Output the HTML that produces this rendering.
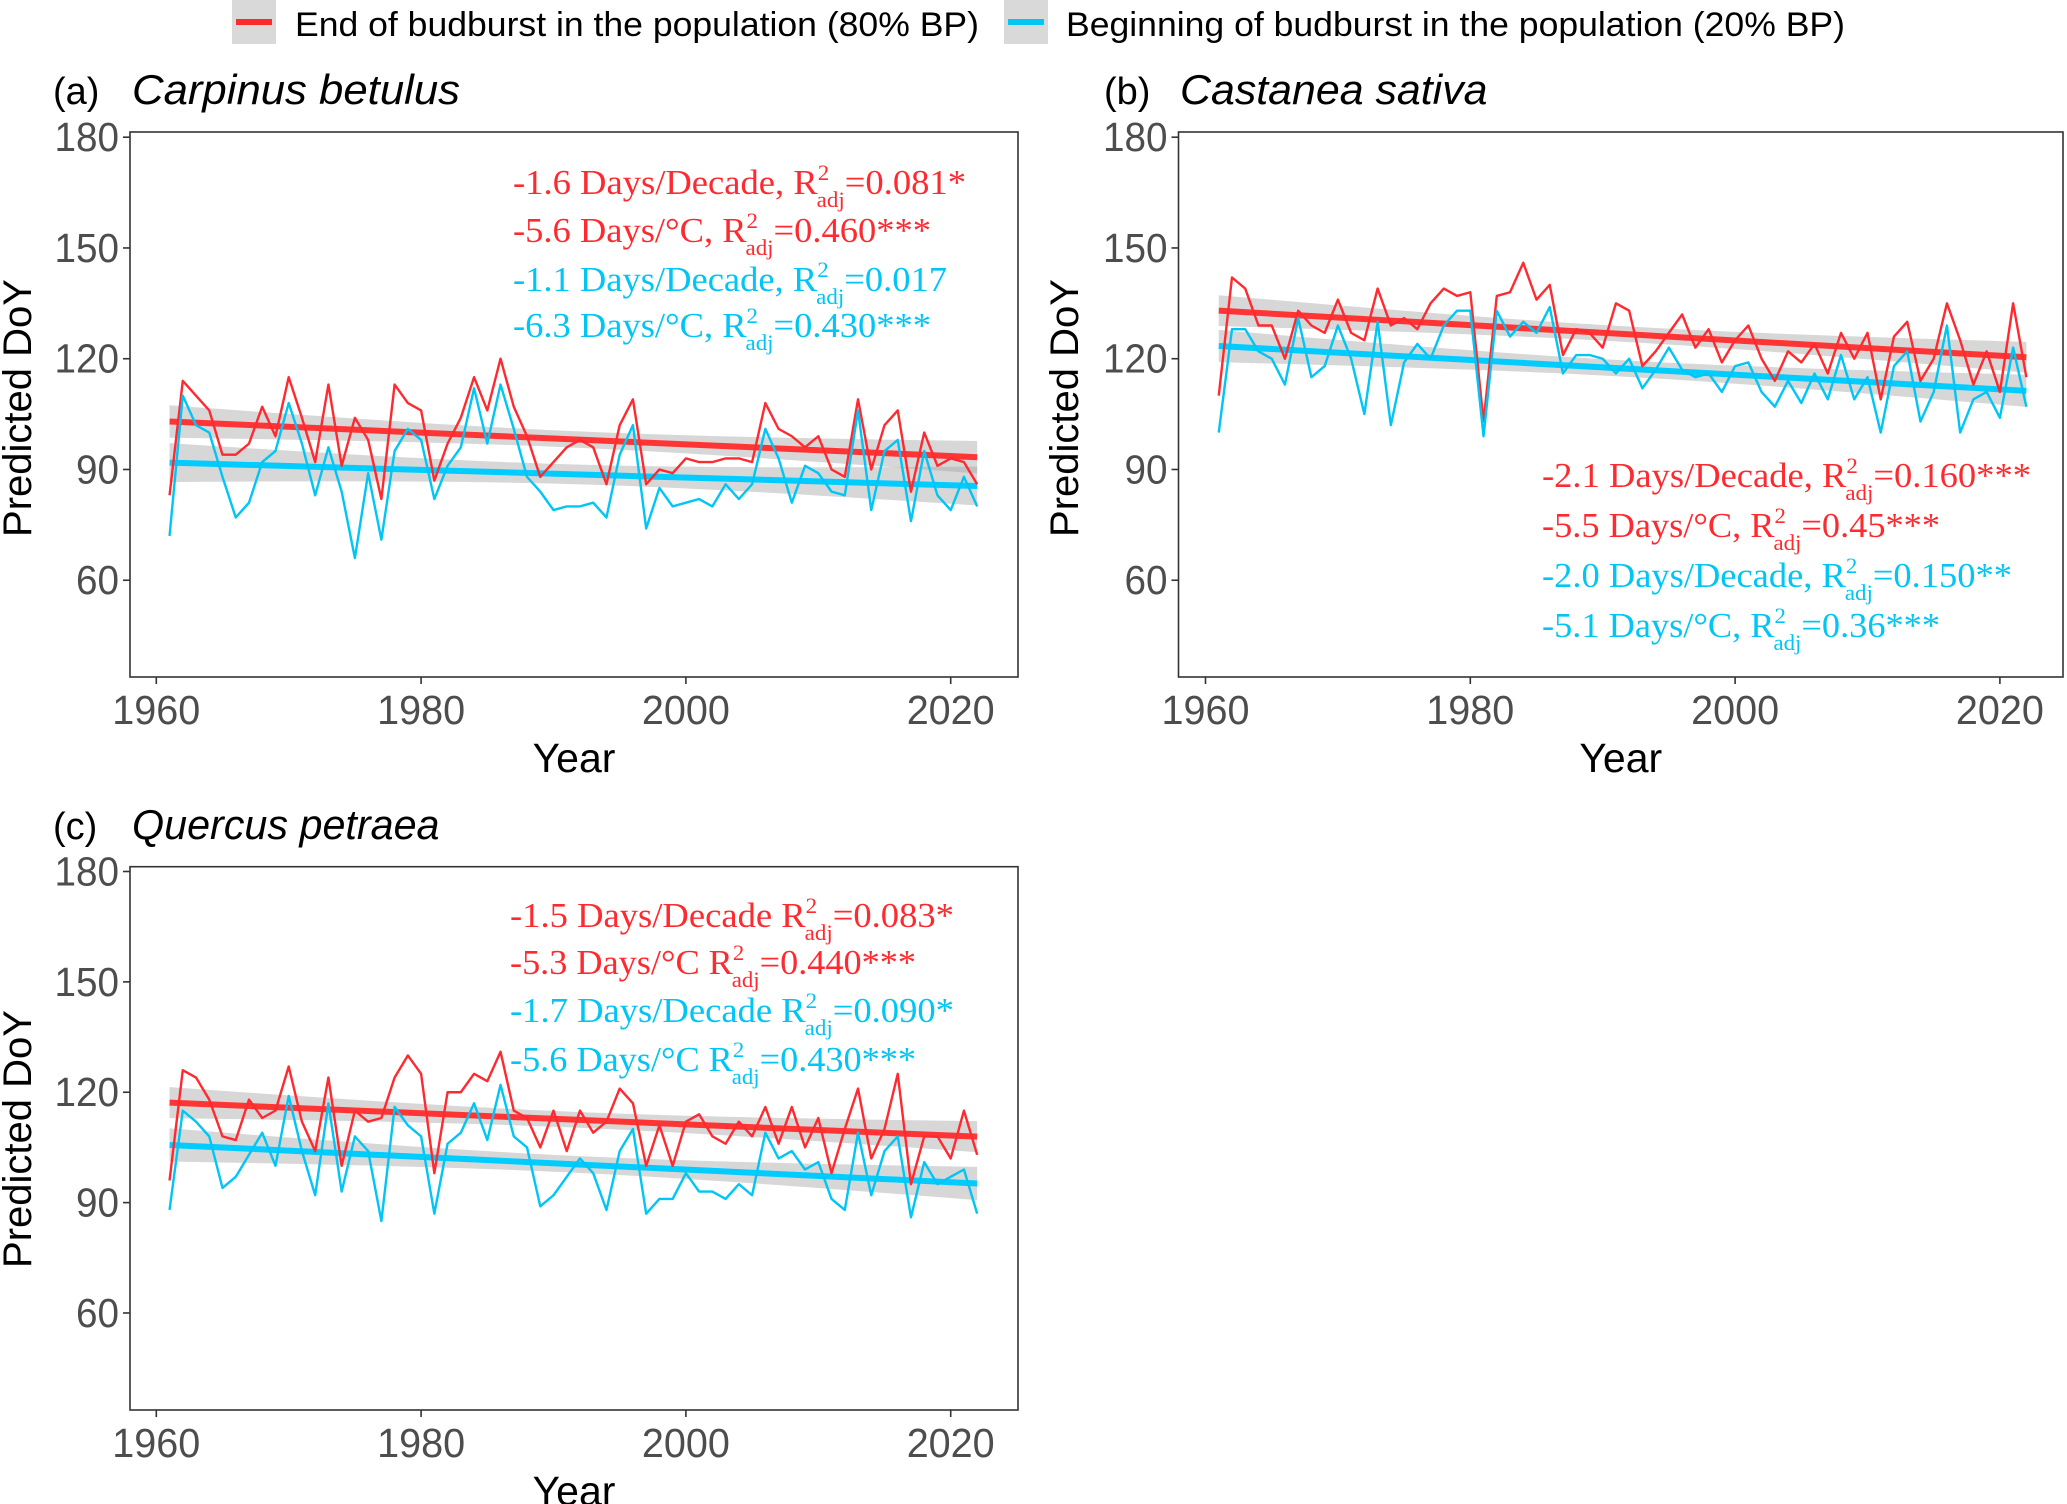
<!DOCTYPE html>
<html><head><meta charset="utf-8">
<style>html,body{margin:0;padding:0;background:#fff}svg{display:block}</style>
</head><body>
<svg id="fig" width="2067" height="1504" viewBox="0 0 2067 1504" xmlns="http://www.w3.org/2000/svg" font-family="Liberation Sans, Arial, sans-serif">
  <g>
    <rect x="232" y="0" width="44" height="44" fill="#d9d9d9"/>
    <line x1="236" y1="22" x2="272" y2="22" stroke="#ff2b2b" stroke-width="6"/>
    <text x="295" y="36" font-size="34" fill="#000" textLength="684" lengthAdjust="spacingAndGlyphs">End of budburst in the population (80% BP)</text>
    <rect x="1004" y="0" width="44" height="44" fill="#d9d9d9"/>
    <line x1="1008" y1="22" x2="1044" y2="22" stroke="#00c5f5" stroke-width="6"/>
    <text x="1066" y="36" font-size="34" fill="#000" textLength="779" lengthAdjust="spacingAndGlyphs">Beginning of budburst in the population (20% BP)</text>
  </g>
  <g id="panels"></g>
</svg>
<script>
const years = [];
for (let y = 1961; y <= 2022; y++) years.push(y);
const yTicks = [60, 90, 120, 150, 180];
const xTicks = [1960, 1980, 2000, 2020];

const carpinus80 = [83,114,110,106,94,94,97,107,99,115,104,92,113,91,104,98,82,113,108,106,87,97,104,115,106,120,107,99,88,92,96,98,96,86,102,109,86,90,89,93,92,92,93,93,92,108,101,99,96,99,90,88,109,90,102,106,84,100,91,93,92,86];
const carpinus20 = [72,110,102,100,88,77,81,92,95,108,97,83,96,84,66,89,71,95,101,98,82,91,96,112,97,113,101,88,84,79,80,80,81,77,94,102,74,85,80,81,82,80,86,82,86,101,93,81,91,89,84,83,106,79,95,98,76,95,83,79,88,80];
const castanea80 = [110,142,139,129,129,120,133,129,127,136,127,125,139,129,131,128,135,139,137,138,103,137,138,146,136,140,121,128,127,123,135,133,118,122,127,132,123,128,119,125,129,120,114,122,119,124,116,127,120,127,109,126,130,114,120,135,125,113,122,111,135,115];
const castanea20 = [100,128,128,122,120,113,131,115,118,129,120,105,130,102,119,124,120,129,133,133,99,133,126,130,127,134,116,121,121,120,116,120,112,117,123,117,115,116,111,118,119,111,107,114,108,116,109,121,109,115,100,118,122,103,111,129,100,109,111,104,123,107];
const quercus80 = [96,126,124,118,108,107,118,113,115,127,112,104,124,100,115,112,113,124,130,125,98,120,120,125,123,131,115,113,105,115,104,115,109,112,121,117,100,111,100,112,114,108,106,112,108,116,106,116,105,113,98,110,121,102,110,125,95,108,108,102,115,103];
const quercus20 = [88,115,112,108,94,97,103,109,100,119,104,92,117,93,108,104,85,116,111,108,87,106,109,117,107,122,108,105,89,92,97,102,98,88,104,110,87,91,91,98,93,93,91,95,92,109,102,104,99,101,91,88,109,92,104,108,86,101,95,97,99,87];

const RED = '#ff2a2f', CYAN = '#00c5f5', TRED = '#ff3535', TCYAN = '#00ccff';
const NS = 'http://www.w3.org/2000/svg';
const root = document.getElementById('panels');

function mk(tag, attrs, parent) {
  const e = document.createElementNS(NS, tag);
  for (const k in attrs) e.setAttribute(k, attrs[k]);
  parent.appendChild(e);
  return e;
}

function fit(xs, ys) {
  const n = xs.length;
  const mx = xs.reduce((a, b) => a + b, 0) / n, my = ys.reduce((a, b) => a + b, 0) / n;
  let sxx = 0, sxy = 0;
  for (let i = 0; i < n; i++) { sxx += (xs[i] - mx) ** 2; sxy += (xs[i] - mx) * (ys[i] - my); }
  const b = sxy / sxx, a = my - b * mx;
  let sse = 0;
  for (let i = 0; i < n; i++) sse += (ys[i] - a - b * xs[i]) ** 2;
  const s = Math.sqrt(sse / (n - 2));
  return { pred: x => a + b * x, se: x => 2.0 * s * Math.sqrt(1 / n + (x - mx) ** 2 / sxx) };
}

const panels = [
  { id: 'a', title: 'Carpinus betulus', left: 130, top: 132, right: 1018, bottom: 677, x0: 156.3, y180: 137.2, pxu: 3.692,
    s80: carpinus80, s20: carpinus20, labelY: 104, tagX: 53, titleX: 132, ytitleX: 18, ytitleY: 408,
    ann: { x: 513, ys: [194, 242, 291, 337], w: [453, 418, 434, 418] },
    lines: [['-1.6 Days/Decade, R', '=0.081*', RED], ['-5.6 Days/\u00B0C, R', '=0.460***', RED], ['-1.1 Days/Decade, R', '=0.017', CYAN], ['-6.3 Days/\u00B0C, R', '=0.430***', CYAN]] },
  { id: 'b', title: 'Castanea sativa', left: 1178.5, top: 132, right: 2063, bottom: 677, x0: 1205.5, y180: 137.2, pxu: 3.692,
    s80: castanea80, s20: castanea20, labelY: 104, tagX: 1104, titleX: 1180, ytitleX: 1065, ytitleY: 408,
    ann: { x: 1542, ys: [487, 537, 587, 637], w: [489, 398, 470, 398] },
    lines: [['-2.1 Days/Decade, R', '=0.160***', RED], ['-5.5 Days/\u00B0C, R', '=0.45***', RED], ['-2.0 Days/Decade, R', '=0.150**', CYAN], ['-5.1 Days/\u00B0C, R', '=0.36***', CYAN]] },
  { id: 'c', title: 'Quercus petraea', left: 130, top: 866.7, right: 1018, bottom: 1410, x0: 156.3, y180: 871.5, pxu: 3.679,
    s80: quercus80, s20: quercus20, labelY: 839, tagX: 53, titleX: 132, ytitleX: 18, ytitleY: 1139,
    ann: { x: 510, ys: [927, 974, 1022, 1071], w: [444, 406, 444, 406] },
    lines: [['-1.5 Days/Decade R', '=0.083*', RED], ['-5.3 Days/\u00B0C R', '=0.440***', RED], ['-1.7 Days/Decade R', '=0.090*', CYAN], ['-5.6 Days/\u00B0C R', '=0.430***', CYAN]] }
];

panels.forEach(p => {
  const g = mk('g', {}, root);
  
  
  const X = yr => p.x0 + 13.24 * (yr - 1960);
  const Y = v => p.y180 + (180 - v) * p.pxu;

  const tag = mk('text', { x: p.tagX, y: p.labelY, 'font-size': 38, fill: '#000' }, g);
  tag.textContent = '(' + p.id + ')';
  
  
  const tt = mk('text', { x: p.titleX, y: p.labelY, 'font-size': 42, 'font-style': 'italic', fill: '#000', textLength: p.title.length * 20.5, lengthAdjust: 'spacingAndGlyphs' }, g);
  tt.textContent = p.title;
  
  

  [[p.s80, TRED], [p.s20, TCYAN]].forEach(([s, col]) => {
    const f = fit(years, s);
    let up = [], lo = [];
    years.forEach(yr => { up.push(X(yr) + ',' + Y(f.pred(yr) + f.se(yr))); lo.unshift(X(yr) + ',' + Y(f.pred(yr) - f.se(yr))); });
    const rb = mk('polygon', { points: up.concat(lo).join(' '), fill: '#a6a6a6', 'fill-opacity': 0.45 }, g);
    
    
    const tl = mk('line', { x1: X(1961), y1: Y(f.pred(1961)), x2: X(2022), y2: Y(f.pred(2022)), stroke: col, 'stroke-width': 6 }, g);
    
    
  });
  [[p.s80, RED, 'series-80-bp'], [p.s20, CYAN, 'series-20-bp']].forEach(([s, col, nm]) => {
    const pl = mk('polyline', { points: years.map((yr, i) => X(yr) + ',' + Y(s[i])).join(' '), fill: 'none', stroke: col, 'stroke-width': 2.4, 'stroke-linejoin': 'round' }, g);
    
    
  });

  const box = mk('rect', { x: p.left, y: p.top, width: p.right - p.left, height: p.bottom - p.top, fill: 'none', stroke: '#333', 'stroke-width': 1.6 }, g);
  
  

  yTicks.forEach(v => {
    mk('line', { x1: p.left - 7, y1: Y(v), x2: p.left, y2: Y(v), stroke: '#333', 'stroke-width': 1.6 }, g);
    const t = mk('text', { x: p.left - 11, y: Y(v) + 14, 'font-size': 41, 'text-anchor': 'end', fill: '#4d4d4d', textLength: String(v).length * 21.5, lengthAdjust: 'spacingAndGlyphs' }, g);
    t.textContent = v;
    
    
  });
  xTicks.forEach(v => {
    mk('line', { x1: X(v), y1: p.bottom, x2: X(v), y2: p.bottom + 7, stroke: '#333', 'stroke-width': 1.6 }, g);
    const t = mk('text', { x: X(v), y: p.bottom + 47, 'font-size': 41, 'text-anchor': 'middle', fill: '#4d4d4d', textLength: 88, lengthAdjust: 'spacingAndGlyphs' }, g);
    t.textContent = v;
    
    
  });
  const xt = mk('text', { x: (p.left + p.right) / 2, y: p.bottom + 95, 'font-size': 41, 'text-anchor': 'middle', fill: '#000' }, g);
  xt.textContent = 'Year';
  
  
  const yt = mk('text', { x: p.ytitleX + 13, y: p.ytitleY, 'font-size': 40, 'text-anchor': 'middle', fill: '#000', transform: `rotate(-90 ${p.ytitleX + 13} ${p.ytitleY})` }, g);
  yt.textContent = 'Predicted DoY';
  
  

  p.lines.forEach((ln, i) => {
    const t = mk('text', { x: p.ann.x, y: p.ann.ys[i], 'font-size': 35, 'font-family': 'Liberation Serif, Times New Roman, serif', fill: ln[2], textLength: p.ann.w[i], lengthAdjust: 'spacingAndGlyphs' }, g);
    
    
    const a = mk('tspan', {}, t); a.textContent = ln[0];
    const sup = mk('tspan', { 'font-size': 22, dy: -14 }, t); sup.textContent = '2';
    const sub = mk('tspan', { 'font-size': 22, dy: 27, dx: -12 }, t); sub.textContent = 'adj';
    const rest = mk('tspan', { dy: -13 }, t); rest.textContent = ln[1];
  });
});
</script>
</body></html>
